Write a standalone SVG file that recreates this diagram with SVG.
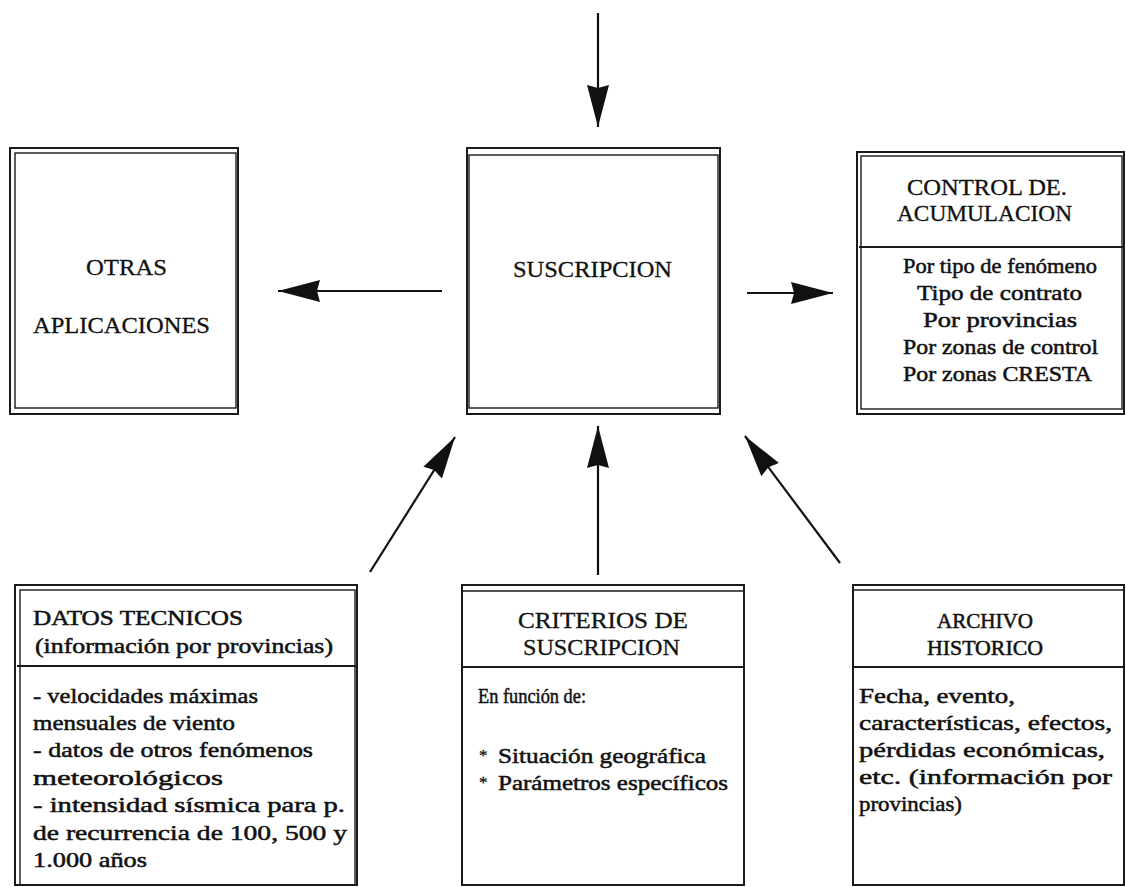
<svg xmlns="http://www.w3.org/2000/svg" width="1126" height="887" viewBox="0 0 1126 887">
<style>
.box{fill:none;stroke:#1a1a1a;stroke-width:2}
.inner{fill:none;stroke:#1a1a1a;stroke-width:1.4}
.t{font-family:"Liberation Serif","Times New Roman",serif;fill:#111;stroke:#111;stroke-width:0.3}
.h{font-size:23px}
.b{font-size:21px;stroke-width:0.5}
.big{font-size:24px}
.blt{font-size:17px}
.c{stroke:#111;stroke-width:2.2;fill:none}
</style>
<defs>
<marker id="ah" markerUnits="userSpaceOnUse" markerWidth="46" markerHeight="24" refX="42" refY="11" orient="auto">
<path d="M0,0 L42,11 L0,22 L3,11 z" fill="#111"/>
</marker>
</defs>
<rect width="1126" height="887" fill="#fff"/>

<g id="otras">
<rect class="box" x="10" y="148" width="228" height="266"/>
<rect class="inner" x="15" y="153" width="221" height="255"/>
<text class="t big" x="86" y="275" textLength="81" lengthAdjust="spacingAndGlyphs">OTRAS</text>
<text class="t big" x="33" y="333" textLength="177" lengthAdjust="spacingAndGlyphs">APLICACIONES</text>
</g>

<g id="suscripcion">
<rect class="box" x="467" y="148" width="253" height="266"/>
<rect class="inner" x="469" y="155" width="249" height="253"/>
<text class="t big" x="513" y="277" textLength="159" lengthAdjust="spacingAndGlyphs">SUSCRIPCION</text>
</g>

<g id="control">
<rect class="box" x="857" y="152" width="267" height="262"/>
<rect class="inner" x="861" y="156" width="261" height="253"/>
<line class="box" x1="859" y1="247" x2="1123" y2="247"/>
<text class="t h" x="907" y="195" textLength="160" lengthAdjust="spacingAndGlyphs">CONTROL DE.</text>
<text class="t h" x="897" y="221" textLength="175" lengthAdjust="spacingAndGlyphs">ACUMULACION</text>
<text class="t b" x="903" y="273" textLength="194" lengthAdjust="spacingAndGlyphs">Por tipo de fenómeno</text>
<text class="t b" x="917" y="300" textLength="165" lengthAdjust="spacingAndGlyphs">Tipo de contrato</text>
<text class="t b" x="923" y="327" textLength="154" lengthAdjust="spacingAndGlyphs">Por provincias</text>
<text class="t b" x="903" y="354" textLength="195" lengthAdjust="spacingAndGlyphs">Por zonas de control</text>
<text class="t b" x="903" y="381" textLength="189" lengthAdjust="spacingAndGlyphs">Por zonas CRESTA</text>
</g>

<g id="datos">
<rect class="box" x="15" y="585" width="342" height="300"/>
<rect class="inner" x="20" y="590" width="335" height="295"/>
<line class="box" x1="17" y1="666" x2="356" y2="666"/>
<text class="t h b" x="33" y="625" textLength="210" lengthAdjust="spacingAndGlyphs">DATOS TECNICOS</text>
<text class="t b" x="35" y="653" textLength="298" lengthAdjust="spacingAndGlyphs">(información por provincias)</text>
<text class="t b" x="33" y="703" textLength="225" lengthAdjust="spacingAndGlyphs">- velocidades máximas</text>
<text class="t b" x="33" y="730" textLength="202" lengthAdjust="spacingAndGlyphs">mensuales de viento</text>
<text class="t b" x="33" y="757" textLength="280" lengthAdjust="spacingAndGlyphs">- datos de otros fenómenos</text>
<text class="t b" x="33" y="785" textLength="190" lengthAdjust="spacingAndGlyphs">meteorológicos</text>
<text class="t b" x="33" y="812" textLength="312" lengthAdjust="spacingAndGlyphs">- intensidad sísmica para p.</text>
<text class="t b" x="33" y="840" textLength="314" lengthAdjust="spacingAndGlyphs">de recurrencia de 100, 500 y</text>
<text class="t b" x="33" y="867" textLength="114" lengthAdjust="spacingAndGlyphs">1.000 años</text>
</g>

<g id="criterios">
<rect class="box" x="462" y="585" width="282" height="300"/>
<line class="inner" x1="463" y1="591" x2="743" y2="591"/>
<line class="box" x1="463" y1="667" x2="743" y2="667"/>
<text class="t h" x="518" y="628" textLength="170" lengthAdjust="spacingAndGlyphs">CRITERIOS DE</text>
<text class="t h" x="523" y="655" textLength="157" lengthAdjust="spacingAndGlyphs">SUSCRIPCION</text>
<text class="t b" x="478" y="703" textLength="108" lengthAdjust="spacingAndGlyphs">En función de:</text>
<text class="t blt" x="479" y="761">*</text>
<text class="t b" x="498" y="763" textLength="208" lengthAdjust="spacingAndGlyphs">Situación geográfica</text>
<text class="t blt" x="479" y="788">*</text>
<text class="t b" x="498" y="790" textLength="230" lengthAdjust="spacingAndGlyphs">Parámetros específicos</text>
</g>

<g id="archivo">
<rect class="box" x="853" y="585" width="271" height="300"/>
<line class="inner" x1="854" y1="590" x2="1123" y2="590"/>
<line class="box" x1="854" y1="667" x2="1123" y2="667"/>
<text class="t h b" x="937" y="628" textLength="96" lengthAdjust="spacingAndGlyphs">ARCHIVO</text>
<text class="t h b" x="927" y="655" textLength="116" lengthAdjust="spacingAndGlyphs">HISTORICO</text>
<text class="t b" x="859" y="703" textLength="156" lengthAdjust="spacingAndGlyphs">Fecha, evento,</text>
<text class="t b" x="859" y="730" textLength="253" lengthAdjust="spacingAndGlyphs">características, efectos,</text>
<text class="t b" x="859" y="757" textLength="246" lengthAdjust="spacingAndGlyphs">pérdidas económicas,</text>
<text class="t b" x="859" y="784" textLength="253" lengthAdjust="spacingAndGlyphs">etc. (información por</text>
<text class="t b" x="859" y="811" textLength="103" lengthAdjust="spacingAndGlyphs">provincias)</text>
</g>

<g id="connectors">
<line class="c" x1="598" y1="13" x2="598" y2="127" marker-end="url(#ah)"/>
<line class="c" x1="442" y1="291" x2="278" y2="291" marker-end="url(#ah)"/>
<line class="c" x1="747" y1="293" x2="833" y2="293" marker-end="url(#ah)"/>
<line class="c" x1="370" y1="572" x2="455" y2="437" marker-end="url(#ah)"/>
<line class="c" x1="598" y1="575" x2="598" y2="426" marker-end="url(#ah)"/>
<line class="c" x1="840" y1="563" x2="745" y2="436" marker-end="url(#ah)"/>
</g>
</svg>
